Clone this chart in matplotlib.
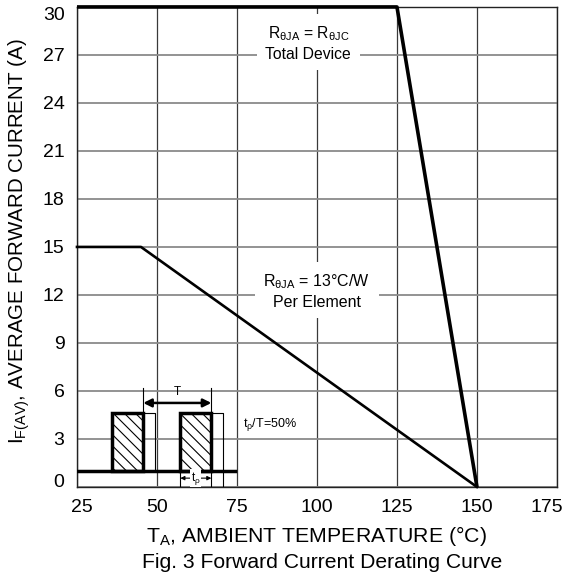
import matplotlib
matplotlib.use("Agg")
import matplotlib.pyplot as plt
from matplotlib.patches import Rectangle
from matplotlib.transforms import ScaledTranslation

plt.rcParams['font.family'] = ['Liberation Sans', 'DejaVu Sans']
plt.rcParams['mathtext.fontset'] = 'custom'
plt.rcParams['mathtext.rm'] = 'Liberation Sans'
plt.rcParams['mathtext.it'] = 'Liberation Sans'
plt.rcParams['hatch.linewidth'] = 0.8

# Data
total_T = [25, 125, 150]
total_I = [30, 30, 0]
elem_T = [25, 45, 150]
elem_I = [15, 15, 0]
x_ticks = [25, 50, 75, 100, 125, 150, 175]
y_ticks = [0, 3, 6, 9, 12, 15, 18, 21, 24, 27, 30]

# Inset waveform sketch (data units)
pulse_starts = [36.0, 57.3]
pulse_width = 9.7
pulse_gap = 3.6
pulse_height = 4.6
baseline_y = 1.0
baseline_x = [25, 74.5]

fig = plt.figure(figsize=(5.64, 5.79), dpi=100)
ax = fig.add_axes([0.1365, 0.159, 0.851, 0.829])
ax.set_xlim(25, 175)
ax.set_ylim(0, 30)
ax.set_xticks(x_ticks)
ax.set_yticks(y_ticks)
ax.tick_params(length=0, labelsize=14)
ax.tick_params(axis='x', pad=9)
ax.tick_params(axis='y', pad=9)
ax.xaxis.grid(True, color='#3a3a3a', linewidth=0.9)
ax.yaxis.grid(True, color='#8a8a8a', linewidth=1.3)
ax.set_axisbelow(True)
for s in ax.spines.values():
    s.set_color('#222222')
    s.set_linewidth(1.0)

# nudge end tick labels inward as in the reference
xt = ax.xaxis.get_major_ticks()
xt[0].label1.set_transform(xt[0].label1.get_transform() + ScaledTranslation(5/100, 0, fig.dpi_scale_trans))
xt[-1].label1.set_transform(xt[-1].label1.get_transform() + ScaledTranslation(-10/100, 0, fig.dpi_scale_trans))
yt = ax.yaxis.get_major_ticks()
yt[0].label1.set_transform(yt[0].label1.get_transform() + ScaledTranslation(0, 6/100, fig.dpi_scale_trans))
yt[-1].label1.set_transform(yt[-1].label1.get_transform() + ScaledTranslation(0, -7/100, fig.dpi_scale_trans))

ax.plot(total_T, total_I, color='black', linewidth=2.6, solid_capstyle='butt', zorder=5, clip_on=False)
ax.plot(elem_T, elem_I, color='black', linewidth=1.9, zorder=5, clip_on=False)

ax.text(97.3, 27.75, r"R$_{\theta\mathrm{JA}}$ = R$_{\theta\mathrm{JC}}$" + "\nTotal Device",
        ha='center', va='center', fontsize=11.3, linespacing=1.35,
        bbox=dict(facecolor='white', edgecolor='none', pad=6), zorder=4)
ax.text(100, 12.25, r"R$_{\theta\mathrm{JA}}$ = 13°C/W" + "\nPer Element",
        ha='center', va='center', fontsize=11.5, linespacing=1.3,
        bbox=dict(facecolor='white', edgecolor='none', pad=6), zorder=4)

# waveform
for x0 in pulse_starts:
    ax.add_patch(Rectangle((x0, baseline_y), pulse_width, pulse_height - baseline_y,
                           facecolor='white', edgecolor='black', hatch='\\\\\\',
                           linewidth=2.5, zorder=6))
    xr = x0 + pulse_width
    ax.plot([xr, xr + pulse_gap, xr + pulse_gap], [pulse_height, pulse_height, baseline_y],
            color='black', linewidth=0.8, zorder=6)
ax.plot(baseline_x, [baseline_y, baseline_y], color='black', linewidth=2.5, zorder=6)

# T arrow
t_l = pulse_starts[0] + pulse_width
t_r = pulse_starts[1] + pulse_width
ax.plot([t_l, t_l], [pulse_height, 6.2], color='black', linewidth=0.8, zorder=6)
ax.plot([t_r, t_r], [pulse_height, 6.2], color='black', linewidth=0.8, zorder=6)
ax.annotate('', xy=(t_l, 5.25), xytext=(t_r, 5.25),
            arrowprops=dict(arrowstyle='<|-|>', color='black', linewidth=1.8,
                            mutation_scale=12, shrinkA=0, shrinkB=0), zorder=7)
ax.text((t_l + t_r) / 2, 5.55, 'T', ha='center', va='bottom', fontsize=8.5, zorder=7)

# tp marker
p_l = pulse_starts[1]
p_r = pulse_starts[1] + pulse_width
ax.plot([p_l, p_l], [baseline_y, 0], color='black', linewidth=0.8, zorder=6)
ax.plot([p_r, p_r], [baseline_y, 0], color='black', linewidth=0.8, zorder=6)
ax.plot([p_r + pulse_gap, p_r + pulse_gap], [baseline_y, 0], color='black', linewidth=0.8, zorder=6)
ax.annotate('', xy=(p_l, 0.55), xytext=(p_r, 0.55),
            arrowprops=dict(arrowstyle='<|-|>', color='black', linewidth=0.8,
                            mutation_scale=6, shrinkA=0, shrinkB=0), zorder=7)
ax.text((p_l + p_r) / 2, 0.55, r"t$_\rho$", ha='center', va='center', fontsize=8.5,
        bbox=dict(facecolor='white', edgecolor='none', pad=0.5), zorder=8)

ax.text(77, 3.9, r"t$_\rho$/T=50%", ha='left', va='center', fontsize=9, zorder=7)

ax.set_ylabel(r"I$_{\mathrm{F(AV)}}$, AVERAGE FORWARD CURRENT (A)", fontsize=14.8)
ax.yaxis.set_label_coords(-0.094, 0.513)
fig.text(316 / 564, 1 - 542 / 579, r"T$_\mathrm{A}$, AMBIENT TEMPERATURE (°C)",
         ha='center', va='baseline', fontsize=15.3)
fig.text(322 / 564, 1 - 568 / 579, "Fig. 3 Forward Current Derating Curve",
         ha='center', va='baseline', fontsize=15.2)

fig.savefig('out.png', dpi=100)
